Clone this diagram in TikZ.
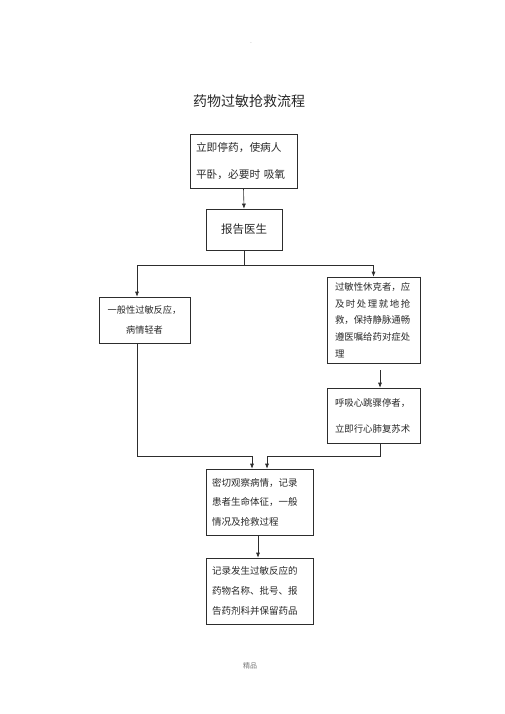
\documentclass[tikz,border=0pt]{standalone}
\usepackage{fontspec}
\setmainfont{Noto Sans CJK SC}
\usetikzlibrary{arrows.meta}
\definecolor{linegray}{RGB}{45,45,45}
\definecolor{textgray}{RGB}{40,40,40}

\begin{document}
\begin{tikzpicture}[x=1pt,y=-1pt,
    box/.style={draw=linegray, line width=0.6pt, text=textgray, inner xsep=6pt, inner ysep=0pt, align=left},
    flow/.style={draw=linegray, line width=0.6pt, -{Latex[length=5pt,width=4pt]}},
    link/.style={draw=linegray, line width=0.6pt}]
            \useasboundingbox (0,0) rectangle (505,714);

            % Header and title
            \node[text=black!35, font=\fontsize{5pt}{6pt}\selectfont] (header) at (251,44) {-};
            \node[text=textgray, font=\fontsize{14pt}{16pt}\selectfont] (title) at (249,101) {药物过敏抢救流程};

            % First steps
            \node[box, text width=95pt, minimum height=54pt, font=\fontsize{10.7pt}{27pt}\selectfont] (stop) at (243.5,161) {立即停药，使病人\\平卧，必要时 吸氧};
            \node[box, align=center, text width=64pt, minimum height=41pt, font=\fontsize{11.5pt}{14pt}\selectfont] (report) at (244,229.5) {报告医生};

            % Two branches
            \node[box, align=center, text width=79pt, minimum height=46pt, font=\fontsize{9.2pt}{20pt}\selectfont] (mild) at (144.5,320) {一般性过敏反应，\\病情轻者};
            \node[box, inner xsep=8pt, text width=77pt, minimum height=86pt, font=\fontsize{9.4pt}{16.7pt}\selectfont] (shock) at (373.5,320)
                {过敏性休克者，应\\\makebox[8em][s]{及\hfil 时\hfil 处\hfil 理\hfil 就\hfil 地\hfil 抢}\\救，保持静脉通畅\\遵医嘱给药对症处\\理};
            \draw[linegray, line width=1.3pt] (shock.north east) -- (shock.south east) -- (shock.south west);
            \node[box, inner xsep=8pt, text width=77pt, minimum height=55pt, font=\fontsize{9.4pt}{26pt}\selectfont] (arrest) at (373.5,415.5) {呼吸心跳骤停者，\\立即行心肺复苏术};

            % Final steps
            \node[box, text width=95pt, minimum height=66pt, font=\fontsize{9.5pt}{19.5pt}\selectfont] (observe) at (259.5,502) {密切观察病情，记录\\患者生命体征，一般\\情况及抢救过程};
            \node[box, text width=95pt, minimum height=66pt, font=\fontsize{9.5pt}{20pt}\selectfont] (record) at (259.5,591) {记录发生过敏反应的\\药物名称、批号、报\\告药剂科并保留药品};

            % Footer
            \node[text=black!55, font=\fontsize{7pt}{8pt}\selectfont] (footer) at (250,666) {精品};

            % Arrows
            \coordinate (split) at (244,265);
            \coordinate (merge) at (259.5,456);
            \draw[flow] (stop.south) -- (report.north);
            \draw[link] (report.south) -- (split);
            \draw[flow] (split) -| ([xshift=-7.5pt]mild.north);
            \draw[flow] (split) -| (shock.north);
            \draw[flow, shorten <=7pt] ([xshift=6.5pt]shock.south) -- ([xshift=6.5pt]arrest.north);
            \draw[flow] ([xshift=-7.5pt]mild.south) |- ([xshift=-7.5pt]observe.north |- merge) -- ([xshift=-7.5pt]observe.north);
            \draw[flow] ([xshift=6.5pt]arrest.south) |- ([xshift=7.5pt]observe.north |- merge) -- ([xshift=7.5pt]observe.north);
            \draw[flow] ([xshift=-1.5pt]observe.south) -- ([xshift=-1.5pt]record.north);
        \end{tikzpicture}
\end{document}
